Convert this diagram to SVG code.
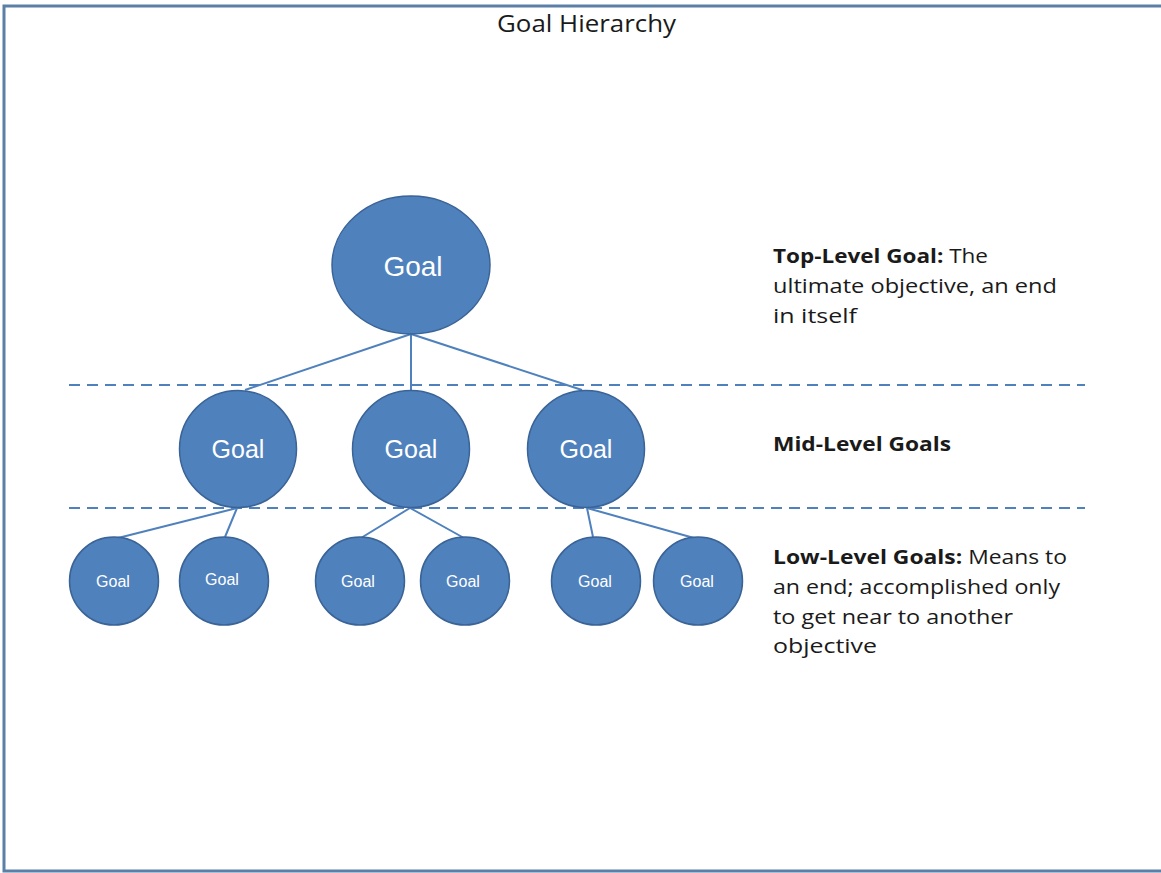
<svg xmlns="http://www.w3.org/2000/svg" width="1161" height="873" viewBox="0 0 1161 873">
<style>
.node{fill:#4f81bd;stroke:#3a6396;stroke-width:1.5}
.lbl{fill:#ffffff;font-family:"Liberation Sans",Arial,sans-serif;text-anchor:middle}
.conn line{stroke:#4f81bd;stroke-width:2}
.dash{stroke:#4f81bd;stroke-width:2;stroke-dasharray:11 7}
.desc{font-family:"Open Sans","Liberation Sans",sans-serif;font-size:20px;fill:#1a1a1a}
.b{font-weight:bold}
</style>
<rect x="0" y="0" width="1161" height="873" fill="#ffffff"/>
<path d="M1170 6 H4 V871 H1170" fill="none" stroke="#5b7fa6" stroke-width="3"/>
<text x="497" y="32" font-family="Open Sans,Liberation Sans,sans-serif" font-size="23" fill="#1a1a1a" textLength="179" lengthAdjust="spacingAndGlyphs">Goal Hierarchy</text>
<g id="dividers">
<line class="dash" x1="69" y1="385" x2="1085" y2="385"/>
<line class="dash" x1="69" y1="508" x2="1085" y2="508"/>
</g>
<g class="conn" id="connectors">
<line x1="411" y1="334" x2="245" y2="390"/>
<line x1="411" y1="334" x2="411" y2="391"/>
<line x1="411" y1="334" x2="582" y2="390"/>
<line x1="237" y1="508" x2="118" y2="538"/>
<line x1="237" y1="508" x2="225" y2="537"/>
<line x1="410" y1="508" x2="361" y2="538"/>
<line x1="410" y1="508" x2="464" y2="538"/>
<line x1="587" y1="508" x2="593" y2="537"/>
<line x1="587" y1="508" x2="694" y2="538"/>
</g>
<g id="top"><ellipse class="node" cx="411" cy="265" rx="79" ry="69"/><text class="lbl" x="413" y="276" font-size="28">Goal</text></g>
<g id="mid1"><circle class="node" cx="238" cy="449" r="58.5"/><text class="lbl" x="238" y="458" font-size="25">Goal</text></g>
<g id="mid2"><circle class="node" cx="411" cy="449" r="58.5"/><text class="lbl" x="411" y="458" font-size="25">Goal</text></g>
<g id="mid3"><circle class="node" cx="586" cy="449" r="58.5"/><text class="lbl" x="586" y="458" font-size="25">Goal</text></g>
<g id="low1"><ellipse class="node" cx="114" cy="581" rx="44.5" ry="44"/><text class="lbl" x="113" y="587" font-size="16">Goal</text></g>
<g id="low2"><ellipse class="node" cx="224" cy="581" rx="44.5" ry="44"/><text class="lbl" x="222" y="585" font-size="16">Goal</text></g>
<g id="low3"><ellipse class="node" cx="360" cy="581" rx="44.5" ry="44"/><text class="lbl" x="358" y="587" font-size="16">Goal</text></g>
<g id="low4"><ellipse class="node" cx="465" cy="581" rx="44.5" ry="44"/><text class="lbl" x="463" y="587" font-size="16">Goal</text></g>
<g id="low5"><ellipse class="node" cx="596" cy="581" rx="44.5" ry="44"/><text class="lbl" x="595" y="587" font-size="16">Goal</text></g>
<g id="low6"><ellipse class="node" cx="698" cy="581" rx="44.5" ry="44"/><text class="lbl" x="697" y="587" font-size="16">Goal</text></g>
<g id="notes" class="desc">
<text x="773" y="263" textLength="215" lengthAdjust="spacingAndGlyphs"><tspan class="b">Top-Level Goal:</tspan> The</text>
<text x="773" y="293" textLength="284" lengthAdjust="spacingAndGlyphs">ultimate objective, an end</text>
<text x="773" y="323" textLength="84" lengthAdjust="spacingAndGlyphs">in itself</text>
<text x="773" y="451" class="b" textLength="178" lengthAdjust="spacingAndGlyphs">Mid-Level Goals</text>
<text x="773" y="564" textLength="294" lengthAdjust="spacingAndGlyphs"><tspan class="b">Low-Level Goals:</tspan> Means to</text>
<text x="773" y="594" textLength="287" lengthAdjust="spacingAndGlyphs">an end; accomplished only</text>
<text x="773" y="624" textLength="240" lengthAdjust="spacingAndGlyphs">to get near to another</text>
<text x="773" y="653" textLength="104" lengthAdjust="spacingAndGlyphs">objective</text>
</g>
</svg>
